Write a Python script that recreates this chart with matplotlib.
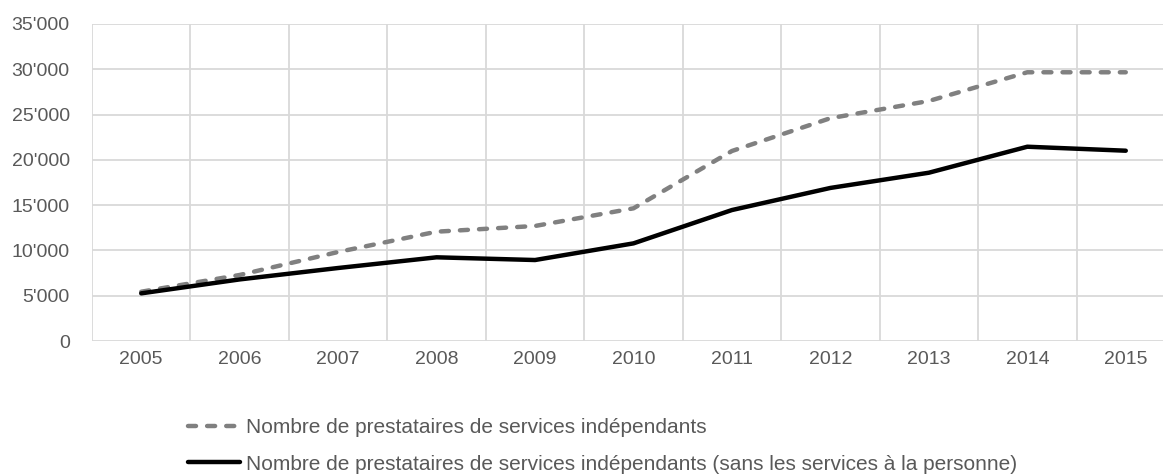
import matplotlib.pyplot as plt
from matplotlib.ticker import FuncFormatter, MultipleLocator

#--------------------------------DATA--------------------
years = ['2005', '2006', '2007', '2008', '2009', '2010',
         '2011', '2012', '2013', '2014', '2015']
total = [5440, 7290, 9830, 12070, 12700, 14650, 20980, 24600, 26500, 29670, 29670]
sans_personne = [5260, 6800, 8060, 9240, 8940, 10780, 14460, 16900, 18580, 21450, 21010]
label_total = 'Nombre de prestataires de services indépendants'
label_sans = 'Nombre de prestataires de services indépendants (sans les services à la personne)'

#--------------------------------STYLE--------------------
plt.rcParams['font.family'] = ['Liberation Sans Narrow', 'Liberation Sans', 'DejaVu Sans']
text_col = '#595959'
grid_col = '#d9d9d9'

fig = plt.figure(figsize=(11.63, 4.74), dpi=100)
W, H = 1163, 474
# plot area: left 92px, right 1175px (cropped), top 24px, bottom 341px
ax = fig.add_axes([92 / W, 1 - 341 / H, (1175 - 92) / W, (341 - 24) / H])

x = list(range(len(years)))
ax.plot(x, total, color='#808080', lw=3.2, linestyle=(0, (1.8, 2.5)),
        dash_capstyle='round', solid_capstyle='round', label=label_total, zorder=3)
ax.plot(x, sans_personne, color='black', lw=3.2, solid_capstyle='round',
        solid_joinstyle='round', label=label_sans, zorder=4)

ax.set_xlim(-0.5, len(years) - 0.5)
ax.set_ylim(0, 35000)
ax.yaxis.set_major_locator(MultipleLocator(5000))
ax.yaxis.set_major_formatter(FuncFormatter(lambda v, p: f"{int(v):,}".replace(',', "'")))
ax.set_xticks(x)
ax.set_xticklabels(years)
# vertical gridlines between categories
ax.set_xticks([i - 0.5 for i in range(len(years) + 1)], minor=True)
ax.grid(True, which='minor', axis='x', color=grid_col, lw=1.3)
ax.grid(True, which='major', axis='y', color=grid_col, lw=1.3)
ax.set_axisbelow(True)
for s in ax.spines.values():
    s.set_visible(False)
ax.tick_params(which='both', length=0)
ax.tick_params(axis='y', labelsize=14, labelcolor=text_col, pad=16)
ax.tick_params(axis='x', labelsize=14, labelcolor=text_col, pad=7)

leg = fig.legend(loc='upper left', bbox_to_anchor=(188 / W, 1 - 418 / H),
                 frameon=False, fontsize=15, labelcolor=text_col,
                 handlelength=2.5, handletextpad=0.3, labelspacing=0.85,
                 borderpad=0, borderaxespad=0)

fig.savefig('out.png', dpi=100)
